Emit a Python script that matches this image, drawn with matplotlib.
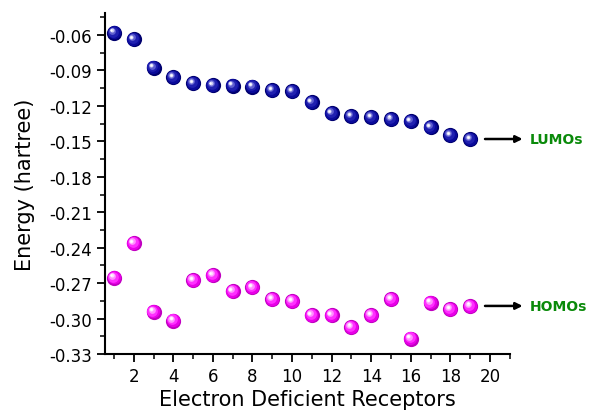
import matplotlib
matplotlib.use("Agg")
import matplotlib.pyplot as plt
import matplotlib.transforms as mtransforms
from matplotlib.ticker import MultipleLocator
import numpy as np

receptors = list(range(1, 20))
lumo = [-0.058, -0.0634, -0.0875, -0.0956, -0.1007, -0.1024, -0.1030, -0.1036, -0.1066, -0.1075,
        -0.1168, -0.1260, -0.1287, -0.1295, -0.1310, -0.1329, -0.1380, -0.1447, -0.1480]
homo = [-0.2655, -0.2364, -0.2943, -0.3017, -0.2677, -0.2632, -0.2768, -0.2737, -0.2836, -0.2853,
        -0.2972, -0.2972, -0.3071, -0.2972, -0.2836, -0.3169, -0.2866, -0.2921, -0.2893]

plt.rcParams['font.family'] = ['DejaVu Sans']
fig = plt.figure(figsize=(5.9, 4.14), dpi=100)
ax = fig.add_axes([0.178, 0.1425, 0.686, 0.8235])


def spheres(x, y, shades):
    for color, size, dx, dy in shades:
        tr = mtransforms.offset_copy(ax.transData, fig=fig, x=dx, y=dy, units='points')
        ax.scatter(x, y, s=size, color=color, transform=tr, zorder=3, linewidths=0, clip_on=False)


spheres(receptors, lumo, [
    ('#00006e', 120, 0, 0),
    ('#0a0a9a', 92, -0.3, 0.3),
    ('#2020b0', 60, -0.8, 0.8),
    ('#6060d0', 24, -1.4, 1.4),
    ('#c8c8f4', 9, -1.7, 1.7),
    ('#ffffff', 3, -1.8, 1.8),
])
spheres(receptors, homo, [
    ('#c000c0', 120, 0, 0),
    ('#e800e8', 92, -0.3, 0.3),
    ('#ff30ff', 60, -0.8, 0.8),
    ('#ff90ff', 24, -1.4, 1.4),
    ('#ffd8ff', 9, -1.7, 1.7),
    ('#ffffff', 3, -1.8, 1.8),
])

ax.set_xlim(0.55, 21)
ax.set_ylim(-0.33, -0.0414)
ax.xaxis.set_minor_locator(MultipleLocator(1))
ax.yaxis.set_minor_locator(MultipleLocator(0.015))
ax.set_xticks(range(2, 21, 2))
yt = np.round(np.arange(-0.33, -0.05, 0.03), 2)
ax.set_yticks(yt)
ax.set_yticklabels([f"{v:.2f}" for v in yt])

for s in ['top', 'right']:
    ax.spines[s].set_visible(False)
for s in ['left', 'bottom']:
    ax.spines[s].set_linewidth(1.5)
ax.tick_params(which='major', direction='out', length=6, width=1.3, labelsize=12)
ax.tick_params(which='minor', direction='out', length=3.5, width=1.1)

ax.set_xlabel('Electron Deficient Receptors', fontsize=15, labelpad=3)
ax.set_ylabel('Energy (hartree)', fontsize=15, labelpad=10)

for yv, label in [(lumo[-1], 'LUMOs'), (homo[-1], 'HOMOs')]:
    ax.annotate('', xy=(21.65, yv), xytext=(19.75, yv), xycoords='data',
                arrowprops=dict(arrowstyle='-|>', color='black', lw=1.8, mutation_scale=10,
                                shrinkA=0, shrinkB=0),
                annotation_clip=False)
    ax.text(22.0, yv, label, color='#0a8a0a', fontsize=10, fontweight='bold',
            va='center', ha='left', clip_on=False)

fig.savefig('out.png', dpi=100)
